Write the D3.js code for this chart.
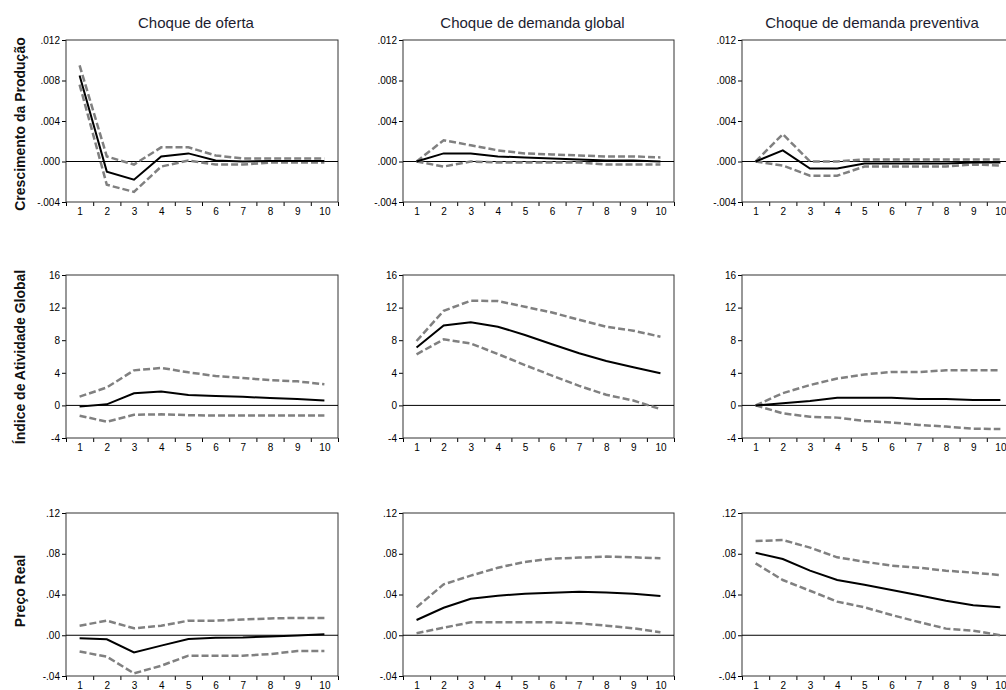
<!DOCTYPE html>
<html><head><meta charset="utf-8">
<script src="https://cdn.jsdelivr.net/npm/d3@7"></script>
<style>body{margin:0;background:#fff}svg{display:block}</style>
</head><body>
<svg id="c" width="1006" height="690"></svg>
<script>
// ---- data ----
const periods = [1,2,3,4,5,6,7,8,9,10];
const shocks = ["Choque de oferta","Choque de demanda global","Choque de demanda preventiva"];
const variables = ["Crescimento da Produção","Índice de Atividade Global","Preço Real"];

// Crescimento da Produção
const prodOfertaResp = [0.0085,-0.0010,-0.0018,0.0005,0.0008,0.0001,0.0000,0.00005,0.00005,0.00005];
const prodOfertaUp   = [0.0095,0.0005,-0.0003,0.0014,0.0014,0.0006,0.0003,0.0003,0.0003,0.0003];
const prodOfertaLo   = [0.0076,-0.0023,-0.0030,-0.0005,0.0001,-0.0003,-0.0003,-0.0001,-0.0001,-0.0001];
const prodGlobalResp = [0,0.0008,0.0008,0.0005,0.0004,0.0003,0.0002,0.0001,0.0001,0.0000];
const prodGlobalUp   = [0,0.0021,0.0016,0.0011,0.0008,0.0007,0.0006,0.0005,0.0005,0.0004];
const prodGlobalLo   = [0,-0.0005,0.0000,-0.0001,-0.0001,-0.0001,-0.0001,-0.0003,-0.0003,-0.0003];
const prodPrevResp   = [0,0.0011,-0.0007,-0.0007,-0.0002,-0.0002,-0.0002,-0.0002,-0.0001,-0.0001];
const prodPrevUp     = [0,0.0027,0.0000,0.0000,0.0002,0.0002,0.0002,0.0002,0.0002,0.0002];
const prodPrevLo     = [0,-0.0004,-0.0014,-0.0014,-0.0005,-0.0005,-0.0005,-0.0005,-0.0003,-0.0004];

// Índice de Atividade Global
const ativOfertaResp = [-0.15,0.13,1.48,1.7,1.28,1.15,1.05,0.9,0.78,0.6];
const ativOfertaUp   = [1.07,2.2,4.3,4.6,4.06,3.6,3.35,3.1,2.95,2.6];
const ativOfertaLo   = [-1.26,-2.0,-1.14,-1.1,-1.2,-1.25,-1.25,-1.25,-1.25,-1.25];
const ativGlobalResp = [7.1,9.8,10.2,9.66,8.64,7.5,6.4,5.45,4.67,3.94];
const ativGlobalUp   = [7.9,11.6,12.85,12.8,12.1,11.4,10.5,9.66,9.17,8.43];
const ativGlobalLo   = [6.27,8.1,7.6,6.3,4.95,3.65,2.4,1.3,0.6,-0.45];
const ativPrevResp   = [0,0.25,0.55,0.95,0.95,0.95,0.8,0.8,0.65,0.65];
const ativPrevUp     = [0,1.5,2.5,3.3,3.8,4.1,4.1,4.3,4.3,4.3];
const ativPrevLo     = [0,-0.97,-1.4,-1.5,-1.9,-2.1,-2.4,-2.6,-2.85,-2.9];

// Preço Real
const precoOfertaResp = [-0.003,-0.004,-0.0168,-0.0102,-0.0036,-0.0025,-0.0022,-0.0012,-0.0003,0.001];
const precoOfertaUp   = [0.0094,0.0143,0.0068,0.0094,0.0143,0.0143,0.0155,0.0165,0.017,0.017];
const precoOfertaLo   = [-0.016,-0.021,-0.0374,-0.0299,-0.020,-0.020,-0.020,-0.0185,-0.0155,-0.0155];
const precoGlobalResp = [0.015,0.027,0.0359,0.0388,0.0408,0.0417,0.0427,0.042,0.0408,0.0385];
const precoGlobalUp   = [0.0274,0.050,0.0585,0.0663,0.072,0.0752,0.0762,0.0772,0.0765,0.0755];
const precoGlobalLo   = [0.002,0.0074,0.0127,0.0127,0.0127,0.0127,0.0117,0.0094,0.0068,0.003];
const precoPrevResp   = [0.081,0.0748,0.0634,0.0542,0.0496,0.0444,0.0392,0.0339,0.0294,0.0274];
const precoPrevUp     = [0.0925,0.0935,0.086,0.0765,0.0722,0.0683,0.0663,0.0634,0.0614,0.0591];
const precoPrevLo     = [0.0706,0.0542,0.0437,0.033,0.0274,0.0199,0.013,0.0065,0.0045,0.0];

// Y tick values and labels
const prodTicks = [-0.004,0,0.004,0.008,0.012];
const prodTickLabels = ["-.004",".000",".004",".008",".012"];
const ativTicks = [-4,0,4,8,12,16];
const ativTickLabels = ["-4","0","4","8","12","16"];
const precoTicks = [-0.04,0,0.04,0.08,0.12];
const precoTickLabels = ["-.04",".00",".04",".08",".12"];

// ---- build ----
const rowsSpec = [
  {ticks: prodTicks, labels: prodTickLabels, series: [
    [prodOfertaResp,prodOfertaUp,prodOfertaLo],[prodGlobalResp,prodGlobalUp,prodGlobalLo],[prodPrevResp,prodPrevUp,prodPrevLo]]},
  {ticks: ativTicks, labels: ativTickLabels, series: [
    [ativOfertaResp,ativOfertaUp,ativOfertaLo],[ativGlobalResp,ativGlobalUp,ativGlobalLo],[ativPrevResp,ativPrevUp,ativPrevLo]]},
  {ticks: precoTicks, labels: precoTickLabels, series: [
    [precoOfertaResp,precoOfertaUp,precoOfertaLo],[precoGlobalResp,precoGlobalUp,precoGlobalLo],[precoPrevResp,precoPrevUp,precoPrevLo]]}
];

const colLeft = [66, 403, 742];
const colWidth = [272, 271, 272];
const rowTop = [40, 275, 513];
const rowHeight = [162, 163, 163];
const rowLabelY = [124, 357, 591];

const svg = d3.select("#c");
svg.append("rect").attr("width",1006).attr("height",690).attr("fill","#fff");

// titles
shocks.forEach((t,j)=>{
  svg.append("text")
    .attr("x", colLeft[j] + colWidth[j]/2 - 6)
    .attr("y", 28)
    .attr("text-anchor","middle")
    .attr("font-family","'Liberation Sans', Arial, sans-serif")
    .attr("font-size", 15)
    .attr("fill","#1c1c30")
    .text(t);
});

// row labels
variables.forEach((v,i)=>{
  svg.append("text")
    .attr("transform", `translate(25,${rowLabelY[i]}) rotate(-90)`)
    .attr("text-anchor","middle")
    .attr("font-family","'Liberation Sans', Arial, sans-serif")
    .attr("font-size", 14)
    .attr("font-weight","bold")
    .attr("fill","#111")
    .text(v);
});

const tickFont = "'Liberation Sans', Arial, sans-serif";

rowsSpec.forEach((row,i)=>{
  row.series.forEach((ser,j)=>{
    const L = colLeft[j], T = rowTop[i], W = colWidth[j], H = rowHeight[i];
    const g = svg.append("g").attr("transform",`translate(${L},${T})`);
    const x = d3.scaleLinear().domain([0.5,10.5]).range([0,W]);
    const y = d3.scaleLinear().domain([row.ticks[0], row.ticks[row.ticks.length-1]]).range([H,0]);

    // y axis
    const ya = g.append("g").call(
      d3.axisLeft(y).tickValues(row.ticks).tickSize(4).tickPadding(2)
        .tickFormat((d,k)=>row.labels[k]));
    ya.select(".domain").remove();
    ya.selectAll("line").attr("stroke","#000");
    ya.selectAll("text").attr("font-family",tickFont).attr("font-size",10).attr("fill","#000");

    // x axis: tick marks at band boundaries, labels at centers
    const boundaries = periods.map(p=>p-0.5).concat([periods[periods.length-1]+0.5]);
    const xb = g.append("g").attr("transform",`translate(0,${H})`).call(
      d3.axisBottom(x).tickValues(boundaries).tickSize(4).tickFormat(""));
    xb.select(".domain").remove();
    xb.selectAll("line").attr("stroke","#000");
    const xl = g.append("g").attr("transform",`translate(0,${H})`).call(
      d3.axisBottom(x).tickValues(periods).tickSize(0).tickPadding(6).tickFormat(d3.format("d")));
    xl.select(".domain").remove();
    xl.selectAll("text").attr("font-family",tickFont).attr("font-size",10).attr("fill","#000");

    // frame
    g.append("rect").attr("x",0).attr("y",0).attr("width",W).attr("height",H)
      .attr("fill","none").attr("stroke","#333").attr("stroke-width",1);

    // zero line
    g.append("line").attr("x1",0).attr("x2",W).attr("y1",y(0)).attr("y2",y(0))
      .attr("stroke","#000").attr("stroke-width",1);

    const line = d3.line().x((d,k)=>x(periods[k])).y(d=>y(d));
    // bands
    [ser[1], ser[2]].forEach(b=>{
      g.append("path").datum(b).attr("d",line).attr("fill","none")
        .attr("stroke","#808080").attr("stroke-width",2.5).attr("stroke-dasharray","7,3");
    });
    // response
    g.append("path").datum(ser[0]).attr("d",line).attr("fill","none")
      .attr("stroke","#000").attr("stroke-width",2);
  });
});
</script>
</body></html>
